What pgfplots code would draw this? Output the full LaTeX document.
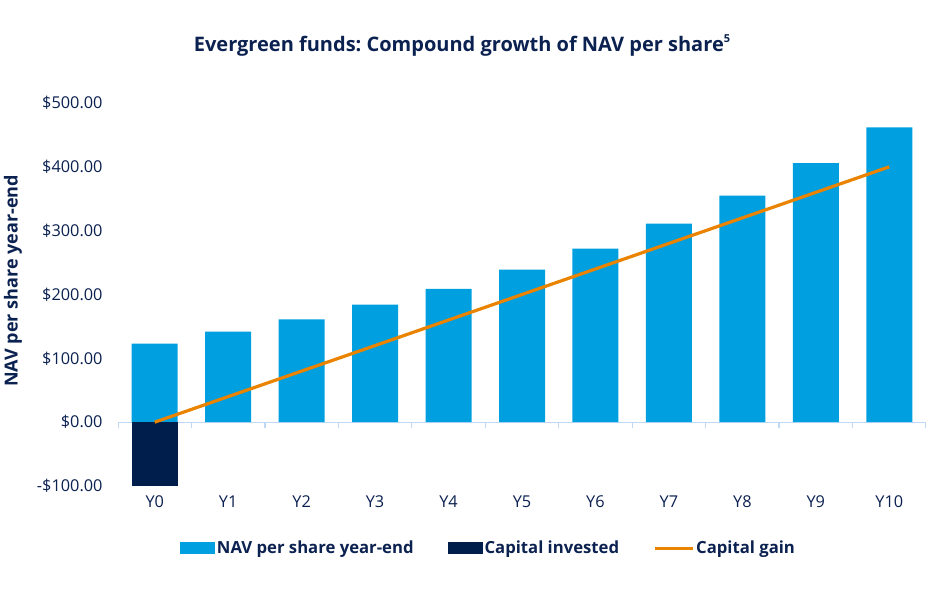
\documentclass[border=0pt]{standalone}
\usepackage{fontspec}
\setmainfont{Open Sans}
\usepackage{pgfplots}
\pgfplotsset{compat=1.18}
\definecolor{navy}{HTML}{0B2150}
\definecolor{barblue}{HTML}{009FDF}
\definecolor{capnavy}{HTML}{001E4B}
\definecolor{gainorange}{HTML}{E98300}
\definecolor{axisblue}{HTML}{BFD8F5}
\frenchspacing
\begin{document}
\begin{tikzpicture}[x=1bp,y=1bp]
\begin{axis}[
  at={(118bp,114bp)}, anchor=south west,
  scale only axis, width=808bp, height=383bp,
  xmin=-0.5, xmax=10.5, ymin=-100, ymax=500,
  axis line style={draw=none},
  major tick length=0pt,
  xtick={0,...,10},
  xticklabels={Y0,Y1,Y2,Y3,Y4,Y5,Y6,Y7,Y8,Y9,Y10},
  ytick={-100,0,100,200,300,400,500},
  yticklabels={-\$100.00,\$0.00,\$100.00,\$200.00,\$300.00,\$400.00,\$500.00},
  ticklabel style={font=\fontsize{16.3bp}{19bp}\selectfont, text=navy},
  yticklabel style={xshift=-12bp},
  xticklabel style={yshift=-6bp},
  legend columns=3,
  legend style={at={(0.4585,-0.162)}, anchor=center, draw=none,
    font=\bfseries\fontsize{16.7bp}{20bp}\selectfont, text=navy,
    nodes={inner sep=2bp},
    /tikz/every even column/.append style={column sep=32bp}},
]
\draw[axisblue, line width=1.2bp] (axis cs:-0.5,0) -- (axis cs:10.5,0);
\pgfplotsinvokeforeach{-0.5,0.5,1.5,2.5,3.5,4.5,5.5,6.5,7.5,8.5,9.5,10.5}{
  \draw[axisblue, line width=1.2bp] (axis cs:#1,0) -- ++(0bp,-6bp);
}
\addplot[ybar, bar width=46bp, bar shift=0pt, fill=barblue, draw=none,
  legend image code/.code={\fill[barblue] (0bp,-6bp) rectangle (35bp,6bp);}]
  coordinates {(0,123)(1,142)(2,161)(3,184)(4,209)(5,239)(6,272)(7,311)(8,355)(9,406)(10,462)};
\addlegendentry{NAV per share year-end}
\addplot[ybar, bar width=46bp, bar shift=0pt, fill=capnavy, draw=none,
  legend image code/.code={\fill[capnavy] (0bp,-6bp) rectangle (35bp,6bp);}]
  coordinates {(0,-100)};
\addlegendentry{Capital invested}
\addplot[gainorange, line width=3.2bp, mark=none,
  legend image code/.code={\draw[gainorange, line width=3bp] (0bp,0bp) -- (38bp,0bp);}]
  coordinates {(0,0)(1,40)(2,80)(3,120)(4,160)(5,200)(6,240)(7,280)(8,320)(9,360)(10,400)};
\addlegendentry{Capital gain}
\end{axis}
\node[font=\bfseries\fontsize{20bp}{24bp}\selectfont, text=navy] at (462bp,555bp)
  {Evergreen funds: Compound growth of NAV per share\raisebox{0.45em}{\fontsize{11bp}{12bp}\selectfont 5}};
\node[rotate=90, font=\bfseries\fontsize{18bp}{22bp}\selectfont, text=navy] at (13bp,319bp)
  {NAV per share year-end};
\pgfresetboundingbox
\useasboundingbox (0bp,0bp) rectangle (926bp,600bp);
\end{tikzpicture}
\end{document}
